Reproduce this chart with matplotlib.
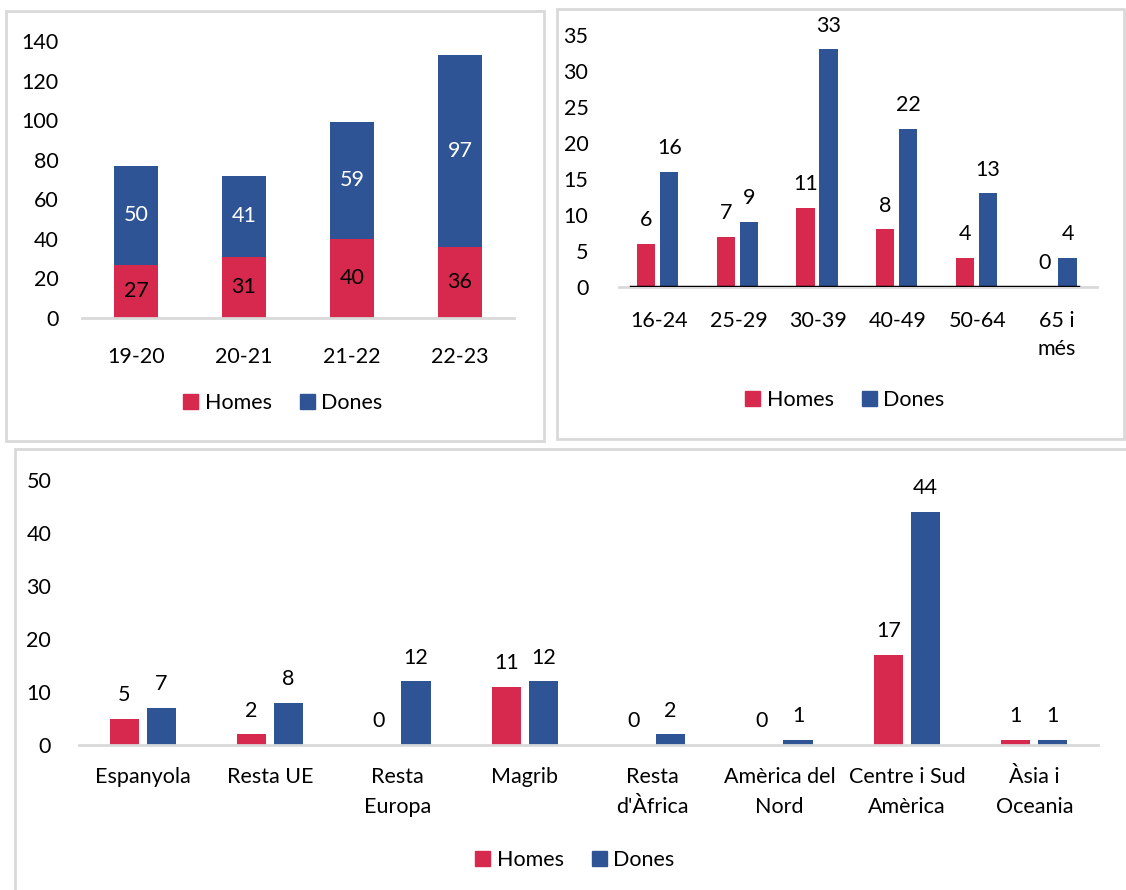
import matplotlib
matplotlib.use("Agg")
import matplotlib.pyplot as plt
from matplotlib.patches import Rectangle, Patch
import numpy as np

plt.rcParams['font.family'] = ['Lato', 'DejaVu Sans']

RED = '#D7294D'
BLUE = '#2E5496'
GRID = '#D9D9D9'

# Panel 1: by course (stacked)
courses = ['19-20', '20-21', '21-22', '22-23']
homes_course = [27, 31, 40, 36]
dones_course = [50, 41, 59, 97]

# Panel 2: by age group
ages = ['16-24', '25-29', '30-39', '40-49', '50-64', '65 i\nmés']
homes_age = [6, 7, 11, 8, 4, 0]
dones_age = [16, 9, 33, 22, 13, 4]

# Panel 3: by nationality
nations = ['Espanyola', 'Resta UE', 'Resta\nEuropa', 'Magrib', "Resta\nd'Àfrica",
           'Amèrica del\nNord', 'Centre i Sud\nAmèrica', 'Àsia i\nOceania']
homes_nat = [5, 2, 0, 11, 0, 0, 17, 1]
dones_nat = [7, 8, 12, 12, 2, 1, 44, 1]

W, H = 1126, 890
fig = plt.figure(figsize=(W / 100, H / 100), dpi=100)
FS = 15.5


def fx(px):
    return px / W


def fy(py):
    return 1 - py / H


def box(x0, y0, x1, y1):
    fig.patches.append(Rectangle((fx(x0), fy(y1)), fx(x1) - fx(x0), fy(y0) - fy(y1),
                                 transform=fig.transFigure, fill=False,
                                 edgecolor=GRID, linewidth=2, zorder=0))


def axes_px(x0, y0, x1, y1):
    return fig.add_axes([fx(x0), fy(y1), fx(x1) - fx(x0), fy(y0) - fy(y1)])


def style(ax):
    for s in ['top', 'right', 'left']:
        ax.spines[s].set_visible(False)
    ax.spines['bottom'].set_color(GRID)
    ax.spines['bottom'].set_linewidth(2)
    ax.tick_params(axis='both', length=0, labelsize=FS, colors='black')


def legend(ax, x, y):
    handles = [Patch(color=RED, label='Homes'), Patch(color=BLUE, label='Dones')]
    ax.legend(handles=handles, loc='center', bbox_to_anchor=(fx(x), fy(y)),
              bbox_transform=fig.transFigure, ncol=2, frameon=False, fontsize=FS,
              handlelength=0.7, handleheight=0.7, handletextpad=0.3,
              columnspacing=1.3)


box(6, 11, 544, 441)
box(557, 9, 1124, 439)
box(15, 449, 1135, 900)

# ---- Panel 1
ax1 = axes_px(82, 41, 514, 318)
style(ax1)
x = np.arange(len(courses))
b1 = ax1.bar(x, homes_course, width=0.41, color=RED)
b2 = ax1.bar(x, dones_course, width=0.41, bottom=homes_course, color=BLUE)
ax1.bar_label(b1, label_type='center', fontsize=FS, color='black')
ax1.bar_label(b2, label_type='center', fontsize=FS, color='white')
ax1.set_xlim(-0.5, len(courses) - 0.5)
ax1.set_ylim(0, 140)
ax1.set_yticks(np.arange(0, 141, 20))
ax1.set_xticks(x)
ax1.set_xticklabels(courses)
ax1.tick_params(axis='y', pad=17)
ax1.tick_params(axis='x', pad=21)
legend(ax1, 283, 403)

# ---- Panel 2
ax2 = axes_px(619, 35, 1097, 287)
style(ax2)
x = np.arange(len(ages))
bw = 0.23
r = ax2.bar(x - 0.16, homes_age, width=bw, color=RED)
b = ax2.bar(x + 0.13, dones_age, width=bw, color=BLUE)
ax2.bar_label(r, padding=10, fontsize=FS)
ax2.bar_label(b, padding=10, fontsize=FS)
ax2.axhline(0, xmin=0.025, xmax=0.96, color='black', lw=2.5, zorder=3)
ax2.set_xlim(-0.5, len(ages) - 0.5)
ax2.set_ylim(0, 35)
ax2.set_yticks(np.arange(0, 36, 5))
ax2.set_xticks(x)
ax2.set_xticklabels(ages, linespacing=1.5)
ax2.tick_params(axis='y', pad=22)
ax2.tick_params(axis='x', pad=17)
legend(ax2, 845, 400)

# ---- Panel 3
ax3 = axes_px(79, 480, 1098, 745)
style(ax3)
x = np.arange(len(nations))
bw = 0.23
r = ax3.bar(x - 0.145, homes_nat, width=bw, color=RED)
b = ax3.bar(x + 0.145, dones_nat, width=bw, color=BLUE)
ax3.bar_label(r, padding=10, fontsize=FS)
ax3.bar_label(b, padding=10, fontsize=FS)
ax3.set_xlim(-0.5, len(nations) - 0.5)
ax3.set_ylim(0, 50)
ax3.set_yticks(np.arange(0, 51, 10))
ax3.set_xticks(x)
ax3.set_xticklabels(nations, linespacing=1.6)
ax3.tick_params(axis='y', pad=20)
ax3.tick_params(axis='x', pad=16)
legend(ax3, 575, 860)

fig.savefig('out.png', dpi=100, facecolor='white')
